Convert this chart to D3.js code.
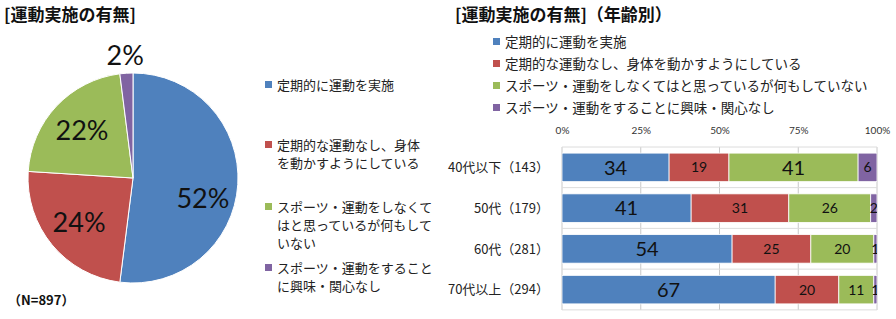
<!DOCTYPE html>
<html>
<head>
<meta charset="utf-8">
<script src="https://cdn.jsdelivr.net/npm/d3@7"></script>
<style>
body{margin:0;background:#fff;}
text{font-family:"Noto Sans CJK JP","Noto Sans",sans-serif;}
text.num{font-family:Lato,"Noto Sans",sans-serif;}
</style>
</head>
<body>
<div id="chart"></div>
<script>
(function(){
"use strict";

// data
var seriesNames = ["定期的に運動を実施", "定期的な運動なし、身体を動かすようにしている", "スポーツ・運動をしなくてはと思っているが何もしていない", "スポーツ・運動をすることに興味・関心なし"];
var pieLegend = [["定期的に運動を実施"], ["定期的な運動なし、身体", "を動かすようにしている"], ["スポーツ・運動をしなくて", "はと思っているが何もして", "いない"], ["スポーツ・運動をすること", "に興味・関心なし"]];
var pieValues = [52, 24, 22, 2];
var ageGroups = ["40代以下（143）", "50代（179）", "60代（281）", "70代以上（294）"];
var regular = [34, 41, 54, 67];
var moveBody = [19, 31, 25, 20];
var shouldDo = [41, 26, 20, 11];
var noInterest = [6, 2, 1, 1];
var ticks = [0, 25, 50, 75, 100];

var colors = ["#4F81BD", "#C0504D", "#9BBB59", "#8064A2"];

var svg = d3.select("#chart").append("svg")
	.attr("width", 896)
	.attr("height", 319);

// ---- left: pie ----
svg.append("text")
	.attr("x", 4).attr("y", 21)
	.attr("font-size", 17).attr("font-weight", "bold").attr("fill", "#111")
	.text("[運動実施の有無]");

var cx = 133, cy = 178, r = 105;
var pie = d3.pie().sort(null);
var arc = d3.arc().innerRadius(0).outerRadius(r);
var labelArc = d3.arc().innerRadius(70).outerRadius(70);
var outArc = d3.arc().innerRadius(123).outerRadius(123);

var pg = svg.append("g").attr("transform", "translate(" + cx + "," + cy + ")");
var slices = pie(pieValues);
pg.selectAll("path")
	.data(slices)
	.enter()
	.append("path")
		.attr("d", arc)
		.attr("fill", function(d, i){ return colors[i]; })
		.attr("stroke", "#fff")
		.attr("stroke-width", 1);

pg.selectAll("text.pl")
	.data(slices)
	.enter()
	.append("text")
		.attr("class", "pl num")
		.attr("transform", function(d){
			var c = d.data < 5 ? outArc.centroid(d) : labelArc.centroid(d);
			// excel pushes the big slice label a bit lower
			if (d.data > 50) c[1] += 16;
			return "translate(" + c + ")";
		})
		.attr("text-anchor", "middle")
		.attr("dy", "0.36em")
		.attr("font-size", 27)
		.attr("fill", "#111")
		.text(function(d){ return d.data + "%"; });

svg.append("text")
	.attr("x", 8).attr("y", 305)
	.attr("font-size", 13).attr("font-weight", "bold").attr("fill", "#111")
	.text("（N=897）");

// pie legend
var legTops = [85, 145, 207, 268];
var lg = svg.append("g");
pieLegend.forEach(function(lines, i){
	lg.append("rect")
		.attr("x", 265).attr("y", legTops[i] - 4)
		.attr("width", 7).attr("height", 7)
		.attr("fill", colors[i]);
	lines.forEach(function(s, j){
		lg.append("text")
			.attr("x", 277).attr("y", legTops[i] + j * 18)
			.attr("dy", "0.35em")
			.attr("font-size", 13).attr("fill", "#222")
			.text(s);
	});
});

// ---- right: stacked bars ----
svg.append("text")
	.attr("x", 455).attr("y", 21)
	.attr("font-size", 17).attr("font-weight", "bold").attr("fill", "#111")
	.text("[運動実施の有無]（年齢別）");

seriesNames.forEach(function(s, i){
	svg.append("rect")
		.attr("x", 493).attr("y", 42 + i * 22 - 4)
		.attr("width", 7).attr("height", 7)
		.attr("fill", colors[i]);
	svg.append("text")
		.attr("x", 505).attr("y", 42 + i * 22)
		.attr("dy", "0.35em")
		.attr("font-size", 13.5).attr("fill", "#222")
		.text(s);
});

var rows = ageGroups.map(function(g, i){
	return {group: g, s0: regular[i], s1: moveBody[i], s2: shouldDo[i], s3: noInterest[i]};
});
var keys = ["s0", "s1", "s2", "s3"];
var stacked = d3.stack().keys(keys).offset(d3.stackOffsetExpand)(rows);

var x = d3.scaleLinear().domain([0, 1]).range([562, 877]);
var y = d3.scaleBand().domain(ageGroups).range([147, 310]).paddingInner(0.3).paddingOuter(0.15);

// grid
svg.append("g")
	.selectAll("line")
	.data(ticks)
	.enter()
	.append("line")
		.attr("x1", function(d){ return x(d / 100); })
		.attr("x2", function(d){ return x(d / 100); })
		.attr("y1", 147).attr("y2", 310)
		.attr("stroke", "#c8c8c8");

var bandLines = [147].concat(ageGroups.map(function(g){ return y(g) + y.bandwidth() + 6; }));
svg.append("g")
	.selectAll("line")
	.data(bandLines)
	.enter()
	.append("line")
		.attr("x1", 562).attr("x2", 877)
		.attr("y1", function(d){ return d; })
		.attr("y2", function(d){ return d; })
		.attr("stroke", "#dcdcdc");

// top axis
var xAxis = d3.axisTop(x)
	.tickValues(ticks.map(function(t){ return t / 100; }))
	.tickFormat(d3.format(".0%"))
	.tickSize(0);
var ax = svg.append("g")
	.attr("transform", "translate(0,137)")
	.call(xAxis);
ax.select(".domain").remove();
ax.selectAll("text")
	.attr("class", "num")
	.attr("font-size", 10)
	.attr("fill", "#333");

svg.append("clipPath").attr("id", "plotClip")
	.append("rect").attr("x", 562).attr("y", 140).attr("width", 315).attr("height", 175);

var plot = svg.append("g").attr("clip-path", "url(#plotClip)");
var layer = plot.selectAll("g.layer")
	.data(stacked)
	.enter()
	.append("g")
		.attr("class", "layer")
		.attr("fill", function(d, i){ return colors[i]; });

layer.selectAll("rect")
	.data(function(d){ return d; })
	.enter()
	.append("rect")
		.attr("x", function(d){ return x(d[0]); })
		.attr("width", function(d){ return x(d[1]) - x(d[0]); })
		.attr("y", function(d){ return y(d.data.group); })
		.attr("height", y.bandwidth())
		.attr("stroke", "#fff")
		.attr("stroke-width", 0.8);

stacked.forEach(function(layerData, i){
	plot.append("g")
		.selectAll("text")
		.data(layerData)
		.enter()
		.append("text")
			.attr("class", "num")
			.attr("x", function(d){ return (x(d[0]) + x(d[1])) / 2; })
			.attr("y", function(d){ return y(d.data.group) + y.bandwidth() / 2; })
			.attr("dy", "0.36em")
			.attr("text-anchor", "middle")
			.attr("font-size", function(d){ return d.data[keys[i]] >= 34 ? 20 : 14; })
			.attr("fill", "#111")
			.text(function(d){ return d.data[keys[i]]; });
});

// row labels
svg.append("g")
	.selectAll("text")
	.data(ageGroups)
	.enter()
	.append("text")
		.attr("x", 549)
		.attr("y", function(d){ return y(d) + y.bandwidth() / 2; })
		.attr("dy", "0.36em")
		.attr("text-anchor", "end")
		.attr("font-size", 13)
		.attr("fill", "#222")
		.text(function(d){ return d; });

})();
</script>
</body>
</html>
